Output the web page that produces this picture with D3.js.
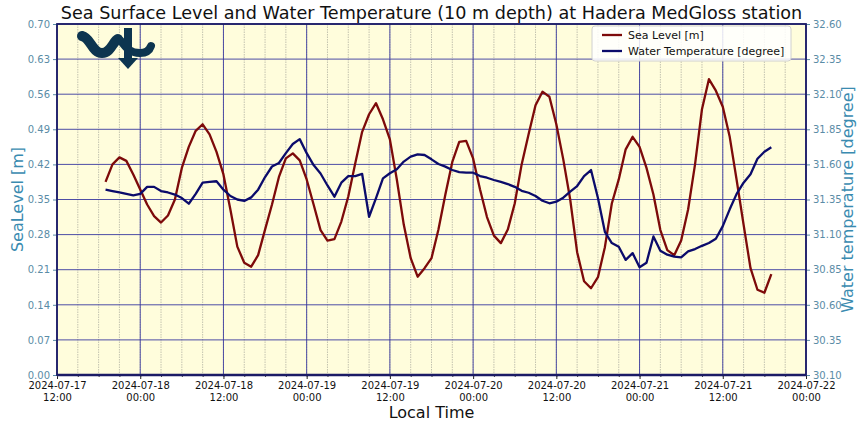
<!DOCTYPE html>
<html>
<head>
<meta charset="utf-8">
<script src="https://cdn.jsdelivr.net/npm/d3@7"></script>
<style>
  html, body { margin: 0; padding: 0; background: #ffffff; }
  svg { display: block; font-family: "DejaVu Sans", sans-serif; }
</style>
</head>
<body>
<svg id="chart" width="858" height="435"></svg>
<script>
// ---- data (hourly samples, local time) ----
const firstSample = "2024-07-17T19:00:00Z";
const sampleStepHours = 1;
const seaLevel = [
  0.385,0.42,0.434,0.427,0.40,0.37,0.34,0.317,0.304,0.318,
  0.35,0.413,0.455,0.487,0.50,0.48,0.445,0.40,0.33,0.256,
  0.224,0.216,0.239,0.29,0.34,0.395,0.432,0.442,0.428,0.39,
  0.34,0.289,0.268,0.271,0.306,0.356,0.422,0.485,0.52,0.542,
  0.51,0.47,0.39,0.30,0.233,0.196,0.213,0.233,0.29,0.36,
  0.425,0.465,0.467,0.432,0.37,0.315,0.278,0.263,0.29,0.342,
  0.42,0.48,0.538,0.565,0.555,0.50,0.43,0.35,0.245,0.187,
  0.173,0.195,0.255,0.342,0.39,0.45,0.475,0.455,0.413,0.36,
  0.289,0.249,0.239,0.268,0.33,0.42,0.53,0.59,0.567,0.535,
  0.475,0.389,0.30,0.213,0.17,0.164,0.201
];
const waterTemp = [
  31.42,31.41,31.40,31.39,31.38,31.39,31.44,31.44,31.41,31.40,
  31.385,31.36,31.32,31.39,31.47,31.475,31.48,31.42,31.375,31.35,
  31.34,31.365,31.42,31.51,31.585,31.61,31.68,31.745,31.78,31.68,
  31.595,31.535,31.45,31.37,31.47,31.517,31.517,31.532,31.227,31.36,
  31.50,31.537,31.565,31.62,31.655,31.672,31.667,31.636,31.603,31.584,
  31.56,31.545,31.541,31.541,31.517,31.505,31.489,31.475,31.46,31.44,
  31.412,31.398,31.375,31.341,31.323,31.334,31.363,31.406,31.446,31.517,
  31.56,31.36,31.12,31.04,31.013,30.92,30.968,30.868,30.90,31.087,
  30.985,30.957,30.943,30.938,30.98,30.997,31.02,31.04,31.07,31.16,
  31.28,31.39,31.47,31.53,31.64,31.69,31.722
];
const xDomain = ["2024-07-17T12:00:00Z", "2024-07-22T00:00:00Z"];
const leftTicks = [0.00,0.07,0.14,0.21,0.28,0.35,0.42,0.49,0.56,0.63,0.70];
const rightTicks = [30.10,30.35,30.60,30.85,31.10,31.35,31.60,31.85,32.10,32.35,32.60];
const titleText = "Sea Surface Level and Water Temperature (10 m depth) at Hadera MedGloss station";
const seriesNames = ["Sea Level [m]", "Water Temperature [degree]"];
const xLabel = "Local Time";
const yLeftLabel = "SeaLevel [m]";
const yRightLabel = "Water temperature [degree]";

// ---- layout ----
const W = 858, H = 435;
const m = {left: 57, right: 52, top: 24, bottom: 60};
const pw = W - m.left - m.right, ph = H - m.top - m.bottom;
const svg = d3.select("#chart");

const t0 = new Date(firstSample);
const times = seaLevel.map((_, i) => d3.utcHour.offset(t0, i * sampleStepHours));

const x = d3.scaleUtc().domain(xDomain.map(d => new Date(d))).range([m.left, m.left + pw]);
const yL = d3.scaleLinear().domain([0, 0.70]).range([m.top + ph, m.top]);
const yR = d3.scaleLinear().domain([30.10, 32.60]).range([m.top + ph, m.top]);

const tickCol = "#5a8ca6", labCol = "#3a8bb0", spine = "#1b1b66", gridCol = "#3b3ba0";

// background
svg.append("rect").attr("x", m.left).attr("y", m.top).attr("width", pw).attr("height", ph)
  .attr("fill", "#fffddc");

// minor vertical grid (3h)
const minorTicks = d3.utcHour.every(3).range(x.domain()[0], x.domain()[1]);
svg.append("g").selectAll("line").data(minorTicks).join("line")
  .attr("x1", d => x(d)).attr("x2", d => x(d)).attr("y1", m.top).attr("y2", m.top + ph)
  .attr("stroke", "#b4b4a4").attr("stroke-width", 0.8).attr("stroke-dasharray", "1.5,1");

// major grid
const majorTicks = d3.utcHour.every(12).range(x.domain()[0], d3.utcHour.offset(x.domain()[1], 1));
svg.append("g").selectAll("line").data(majorTicks).join("line")
  .attr("x1", d => x(d)).attr("x2", d => x(d)).attr("y1", m.top).attr("y2", m.top + ph)
  .attr("stroke", gridCol).attr("stroke-width", 1).attr("opacity", 0.9);
svg.append("g").selectAll("line").data(leftTicks).join("line")
  .attr("x1", m.left).attr("x2", m.left + pw).attr("y1", d => yL(d)).attr("y2", d => yL(d))
  .attr("stroke", gridCol).attr("stroke-width", 1).attr("opacity", 0.9);

// logo
const logo = svg.append("g").attr("fill", "none").attr("stroke", "#0d3550");
logo.append("path").attr("d", "M82,36 C91,38 92,53 102,53 C111,53 113,41 118,39")
  .attr("stroke-width", 10).attr("stroke-linecap", "round");
logo.append("path").attr("d", "M121,41 C126,48 130,53 140,53 C147,53 150,49 151,46")
  .attr("stroke-width", 8).attr("stroke-linecap", "round");
svg.append("rect").attr("x", 124).attr("y", 28).attr("width", 8).attr("height", 31).attr("fill", "#0d3550");
svg.append("path").attr("d", "M118,58 L138,58 L128,69 Z").attr("fill", "#0d3550");

// lines
const lineL = d3.line().x((d, i) => x(times[i])).y(d => yL(d));
const lineR = d3.line().x((d, i) => x(times[i])).y(d => yR(d));
svg.append("path").datum(seaLevel).attr("d", lineL).attr("fill", "none")
  .attr("stroke", "#7d0a0a").attr("stroke-width", 2.3).attr("stroke-linejoin", "round");
svg.append("path").datum(waterTemp).attr("d", lineR).attr("fill", "none")
  .attr("stroke", "#0b0b6b").attr("stroke-width", 2.3).attr("stroke-linejoin", "round");

// axes
const fmtD = d3.utcFormat("%Y-%m-%d"), fmtH = d3.utcFormat("%H:%M");
const xAxis = svg.append("g").attr("transform", `translate(0,${m.top + ph})`)
  .call(d3.axisBottom(x).tickValues(majorTicks).tickSize(4).tickFormat(""));
xAxis.select(".domain").remove();
xAxis.selectAll(".tick line").attr("stroke", "#222");
xAxis.selectAll(".tick").each(function(d) {
  const t = d3.select(this).append("text").attr("fill", "#111").attr("font-size", 10)
    .attr("font-family", "DejaVu Sans").attr("text-anchor", "middle");
  t.append("tspan").attr("x", 0).attr("y", 14).text(fmtD(d));
  t.append("tspan").attr("x", 0).attr("y", 25.5).text(fmtH(d));
});
svg.append("g").attr("transform", `translate(0,${m.top + ph})`)
  .call(d3.axisBottom(x).tickValues(minorTicks).tickSize(2).tickFormat(""))
  .call(g => g.select(".domain").remove())
  .selectAll(".tick line").attr("stroke", "#444");

const yAxisL = svg.append("g").attr("transform", `translate(${m.left},0)`)
  .call(d3.axisLeft(yL).tickValues(leftTicks).tickSize(4).tickFormat(d3.format(".2f")));
yAxisL.select(".domain").remove();
yAxisL.selectAll(".tick line").attr("stroke", tickCol);
yAxisL.selectAll("text").attr("fill", tickCol).attr("font-size", 10).attr("font-family", "DejaVu Sans");

const yAxisR = svg.append("g").attr("transform", `translate(${m.left + pw},0)`)
  .call(d3.axisRight(yR).tickValues(rightTicks).tickSize(4).tickFormat(d3.format(".2f")));
yAxisR.select(".domain").remove();
yAxisR.selectAll(".tick line").attr("stroke", tickCol);
yAxisR.selectAll("text").attr("fill", tickCol).attr("font-size", 10).attr("font-family", "DejaVu Sans");

// spines
svg.append("rect").attr("x", m.left).attr("y", m.top).attr("width", pw).attr("height", ph)
  .attr("fill", "none").attr("stroke", spine).attr("stroke-width", 1.8);
svg.append("line").attr("x1", m.left).attr("x2", m.left + pw).attr("y1", m.top + ph).attr("y2", m.top + ph)
  .attr("stroke", spine).attr("stroke-width", 2.4);

// legend
const lg = svg.append("g").attr("transform", "translate(592,26)");
lg.append("rect").attr("width", 199).attr("height", 35).attr("rx", 3)
  .attr("fill", "#ffffff").attr("fill-opacity", 0.85).attr("stroke", "#d0d0d0");
const legCols = ["#7d0a0a", "#0b0b6b"];
seriesNames.forEach((n, i) => {
  const yy = 9 + i * 16;
  lg.append("line").attr("x1", 10).attr("x2", 30).attr("y1", yy).attr("y2", yy)
    .attr("stroke", legCols[i]).attr("stroke-width", 2.3);
  lg.append("text").attr("x", 36).attr("y", yy + 4).attr("font-size", 11).attr("fill", "#111").text(n);
});

// titles
svg.append("text").attr("x", m.left + pw / 2).attr("y", 19).attr("text-anchor", "middle")
  .attr("font-size", 17.6).attr("fill", "#111").text(titleText);
svg.append("text").attr("x", m.left + pw / 2).attr("y", 418).attr("text-anchor", "middle")
  .attr("font-size", 16).attr("fill", "#111").text(xLabel);
svg.append("text").attr("transform", `translate(23,${m.top + ph / 2}) rotate(-90)`)
  .attr("text-anchor", "middle").attr("font-size", 16).attr("fill", labCol).text(yLeftLabel);
svg.append("text").attr("transform", `translate(853,${m.top + ph / 2}) rotate(-90)`)
  .attr("text-anchor", "middle").attr("font-size", 16).attr("fill", labCol).text(yRightLabel);
</script>
</body>
</html>
